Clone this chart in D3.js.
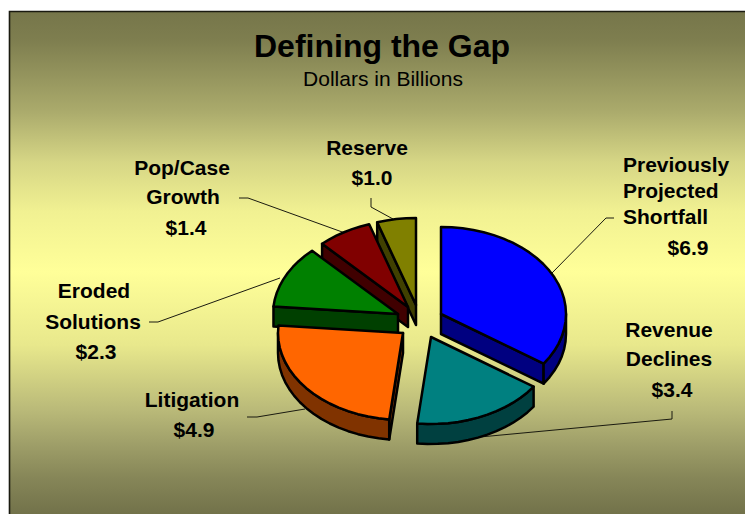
<!DOCTYPE html>
<html><head><meta charset="utf-8">
<style>html,body{margin:0;padding:0;background:#fff}svg{display:block}text{font-family:"Liberation Sans",Arial,sans-serif;fill:#000}</style>
<script src="https://cdn.jsdelivr.net/npm/d3@7/dist/d3.min.js"></script>
</head><body><svg id="c" width="745" height="514"></svg>
<script>
const categories = ["Previously Projected Shortfall","Revenue Declines","Litigation","Eroded Solutions","Pop/Case Growth","Reserve"];
const values = [6.9,3.4,4.9,2.3,1.4,1.0];
const topColors = ["#0000ff","#008080","#ff6600","#008000","#800000","#808000"];
const wallColors = ["#000080","#004040","#803300","#004000","#400000","#404000"];
const chartTitle = "Defining the Gap";
const chartSubtitle = "Dollars in Billions";

// layout
const W=745,H=514,rx=125,ry=87,depth=20,cx=418,cy=320;
const shifts=[[23,-6],[13,17],[-15,13],[-20,-6],[-10,-13],[-2,-15]];
const drawOrder=[5,4,3,2,0,1];
const labelLines=[
 [["Previously",623,172,"start"],["Projected",623,198,"start"],["Shortfall",623,224,"start"]],
 [["Revenue",669,337,"middle"],["Declines",669,366,"middle"]],
 [["Litigation",192,407,"middle"]],
 [["Eroded",94,298,"middle"],["Solutions",93,329,"middle"]],
 [["Pop/Case",182,175,"middle"],["Growth",183,204,"middle"]],
 [["Reserve",367,155,"middle"]]];
const valuePos=[[688,255],[672,397],[194,437],[96,359],[186,235],[372,185]];
const leaders=[
 [[552,273],[606,218],[614,218]],
 [[480,437],[672,419],[672,411]],
 [[305,409],[257,417],[247,417]],
 [[280,278],[158,322],[149,322]],
 [[345,233],[248,198],[239,198]],
 [[393,219],[371,207],[371,198]]];

const svg=d3.select("#c");
const defs=svg.append("defs");
const grad=defs.append("linearGradient").attr("id","bg").attr("gradientUnits","userSpaceOnUse")
 .attr("x1",0).attr("x2",0).attr("y1",0).attr("y2",H);
[[12,"#76764a"],[40,"#7e7e4f"],[112,"#abab6c"],[162,"#d6d685"],[212,"#f1f192"],[272,"#ffff99"],[345,"#e8e88c"],[412,"#b8b878"],[445,"#9e9e68"],[478,"#868658"],[514,"#72724a"]]
 .forEach(s=>grad.append("stop").attr("offset",s[0]/H).attr("stop-color",s[1]));
svg.append("rect").attr("x",10).attr("y",11.5).attr("width",W-10).attr("height",H-11.5).attr("fill","url(#bg)");
svg.append("path").attr("d",`M9.5,${H}V11.5H${W}`).attr("fill","none").attr("stroke","#1a1a10").attr("stroke-width",1.6);

svg.append("text").attr("x",382).attr("y",57).attr("text-anchor","middle").attr("font-size",32).attr("font-weight",700).text(chartTitle);
svg.append("text").attr("x",383).attr("y",86).attr("text-anchor","middle").attr("font-size",21).text(chartSubtitle);

// leader lines
const line=d3.line();
svg.append("g").selectAll("path").data(leaders).join("path").attr("d",d=>line(d))
 .attr("fill","none").attr("stroke","#1a1a10").attr("stroke-width",1);

// pie
const arcs=d3.pie().sort(null)(values);
const xs=d3.scaleLinear().domain([-1,1]).range([-rx,rx]);
const ys=d3.scaleLinear().domain([-1,1]).range([-ry,ry]);
const px=(a,r=1)=>[xs(r*Math.sin(a)),ys(-r*Math.cos(a))];
const step=Math.PI/36;
function arcPts(a0,a1){const n=Math.max(2,Math.ceil((a1-a0)/step));return d3.range(n+1).map(i=>px(a0+(a1-a0)*i/n));}
const down=p=>[p[0],p[1]+depth];
const closed=pts=>line(pts)+"Z";
const pieG=svg.append("g");
drawOrder.forEach(i=>{
 const a=arcs[i],s=shifts[i];
 const g=pieG.append("g").attr("transform",`translate(${cx+s[0]},${cy+s[1]})`)
  .attr("stroke","#000").attr("stroke-width",2.5).attr("stroke-linejoin","round");
 const o=[0,0];
 // only the cut faces turned toward the viewer
 const faces=[];
 if(Math.sin(a.startAngle)<-1e-6) faces.push(a.startAngle);
 if(Math.sin(a.endAngle)>1e-6) faces.push(a.endAngle);
 faces.forEach(t=>{
  const p=px(t);
  g.append("path").attr("d",closed([o,p,down(p),down(o)])).attr("fill",wallColors[i]);
 });
 const lo=Math.max(a.startAngle,Math.PI/2),hi=Math.min(a.endAngle,3*Math.PI/2);
 if(hi>lo){
  const e=arcPts(lo,hi);
  g.append("path").attr("d",closed(e.concat(e.map(down).reverse()))).attr("fill",wallColors[i]);
 }
 g.append("path").attr("d",closed([o].concat(arcPts(a.startAngle,a.endAngle)))).attr("fill",topColors[i]);
});

// labels
const lab=svg.append("g").attr("font-size",21).attr("font-weight",700);
labelLines.forEach((ls,i)=>{
 ls.forEach(l=>lab.append("text").attr("x",l[1]).attr("y",l[2]).attr("text-anchor",l[3]).text(l[0]));
 lab.append("text").attr("x",valuePos[i][0]).attr("y",valuePos[i][1]).attr("text-anchor","middle").text("$"+d3.format(".1f")(values[i]));
});
</script></body></html>
